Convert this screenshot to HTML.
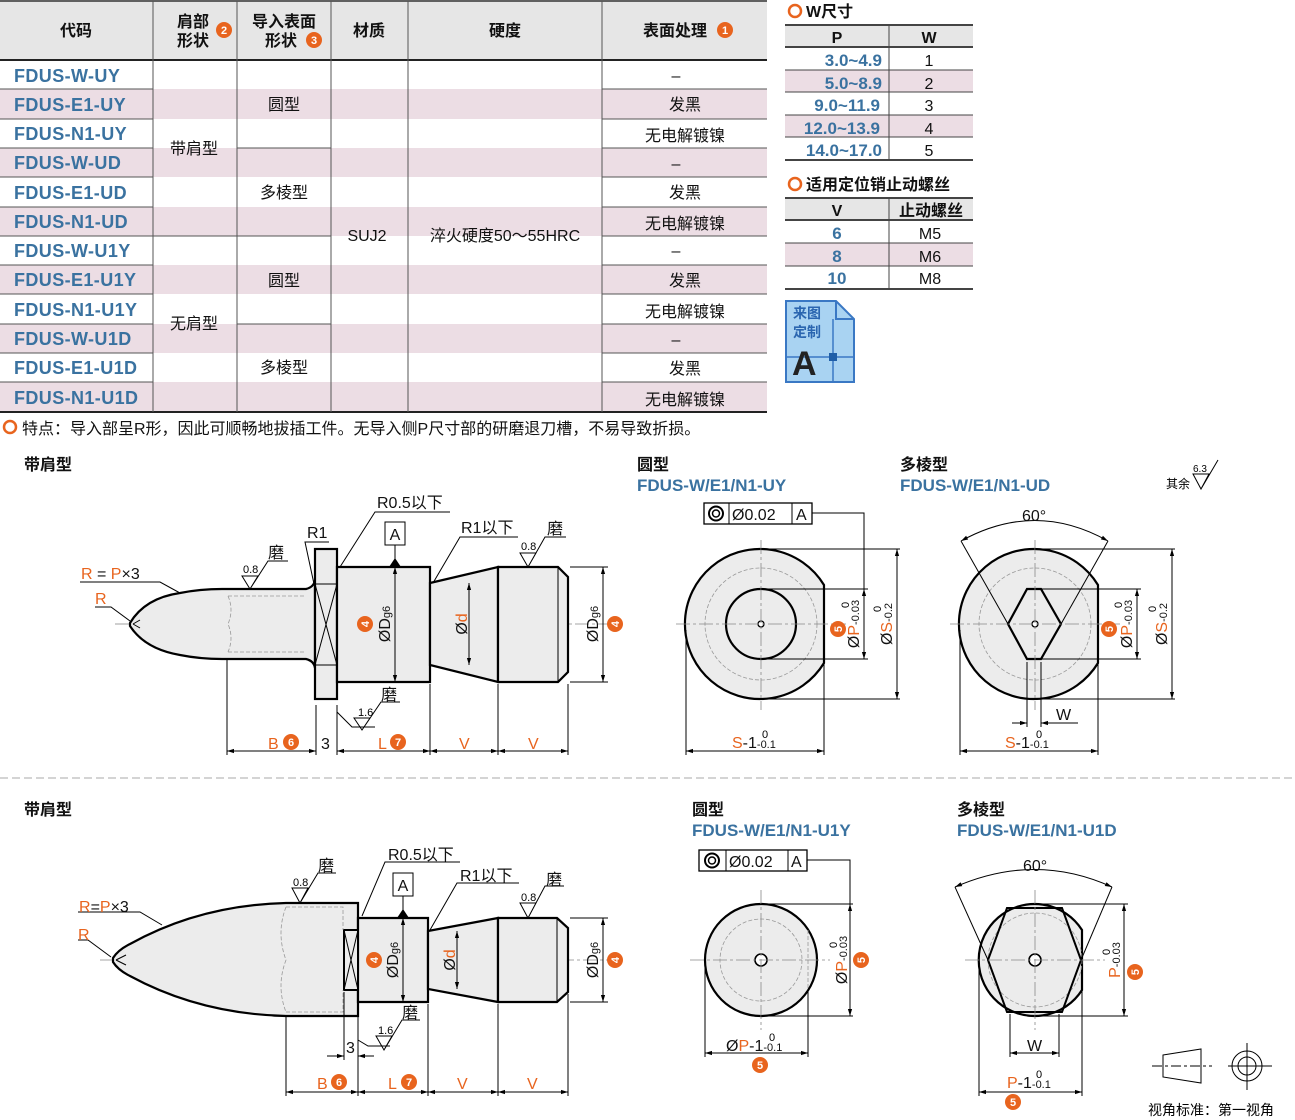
<!DOCTYPE html>
<html><head><meta charset="utf-8"><style>
html,body{margin:0;padding:0;background:#fff;}
svg{display:block;font-family:"Liberation Sans","Noto Sans CJK SC",sans-serif;}
.cd{fill:#3a72a0;font-weight:bold;font-size:17px;}
.cdt{font-size:18px;letter-spacing:0.4px;}
.t{font-size:16px;fill:#111;}
.h{font-size:16px;fill:#111;font-weight:bold;}
.o{fill:#e8641e;}
.s{stroke:#000;stroke-width:2.2;fill:#ececec;}
.ln{stroke:#000;stroke-width:1;fill:none;}
.ax{stroke:#888;stroke-width:0.8;stroke-dasharray:14 3 3 3;fill:none;}
.hd{stroke:#999;stroke-width:0.8;stroke-dasharray:4 2;fill:none;}
.dm{font-size:16px;fill:#111;}
</style></head><body>
<svg width="1295" height="1120" viewBox="0 0 1295 1120" xmlns="http://www.w3.org/2000/svg">
<defs>
<marker id="a" viewBox="0 0 10 10" refX="10" refY="5" markerWidth="9" markerHeight="7" orient="auto-start-reverse"><path d="M0,2 L10,5 L0,8z" fill="#000"/></marker>
</defs>

<!-- ===== main table ===== -->
<rect x="0" y="0" width="767" height="60" fill="#e6e6e6"/>
<g fill="#ecdde4">
<rect x="0" y="89" width="767" height="30"/><rect x="0" y="148" width="767" height="29"/>
<rect x="0" y="207" width="767" height="29"/><rect x="0" y="265" width="767" height="29"/>
<rect x="0" y="324" width="767" height="29"/><rect x="0" y="382" width="767" height="30"/>
</g>
<line x1="0" y1="1" x2="767" y2="1" stroke="#333" stroke-width="1.5"/>
<line x1="0" y1="60" x2="767" y2="60" stroke="#222" stroke-width="2"/>
<line x1="0" y1="412" x2="767" y2="412" stroke="#222" stroke-width="2"/>
<g stroke="#555" stroke-width="1">
<line x1="153" y1="1" x2="153" y2="412"/><line x1="237" y1="1" x2="237" y2="412"/>
<line x1="331" y1="1" x2="331" y2="412"/><line x1="408" y1="1" x2="408" y2="412"/>
<line x1="602" y1="1" x2="602" y2="412"/>
<g id="rl">
<line x1="0" y1="89" x2="153" y2="89"/><line x1="0" y1="119" x2="153" y2="119"/><line x1="0" y1="148" x2="153" y2="148"/>
<line x1="0" y1="177" x2="153" y2="177"/><line x1="0" y1="207" x2="153" y2="207"/><line x1="0" y1="236" x2="153" y2="236"/>
<line x1="0" y1="265" x2="153" y2="265"/><line x1="0" y1="294" x2="153" y2="294"/><line x1="0" y1="324" x2="153" y2="324"/>
<line x1="0" y1="353" x2="153" y2="353"/><line x1="0" y1="382" x2="153" y2="382"/>
</g>
<use href="#rl" transform="translate(602,0) scale(1.0784,1)"/>
<line x1="153" y1="236" x2="237" y2="236"/>
<line x1="237" y1="148" x2="331" y2="148"/><line x1="237" y1="236" x2="331" y2="236"/><line x1="237" y1="324" x2="331" y2="324"/>
</g>
<g class="h" text-anchor="middle">
<text x="76" y="36">代码</text>
<text x="193" y="27">肩部</text><text x="193" y="46">形状</text>
<text x="284" y="27">导入表面</text><text x="281" y="46">形状</text>
<text x="369" y="36">材质</text><text x="505" y="36">硬度</text><text x="675" y="36">表面处理</text>
</g>
<g font-size="11" font-weight="bold" fill="#fff" text-anchor="middle">
<circle cx="224" cy="30" r="8" class="o"/><text x="224" y="34">2</text>
<circle cx="314" cy="40" r="8" class="o"/><text x="314" y="44">3</text>
<circle cx="725" cy="30" r="8" class="o"/><text x="725" y="34">1</text>
</g>
<g class="cd cdt">
<text x="14" y="82">FDUS-W-UY</text><text x="14" y="111">FDUS-E1-UY</text><text x="14" y="140">FDUS-N1-UY</text>
<text x="14" y="169">FDUS-W-UD</text><text x="14" y="199">FDUS-E1-UD</text><text x="14" y="228">FDUS-N1-UD</text>
<text x="14" y="257">FDUS-W-U1Y</text><text x="14" y="286">FDUS-E1-U1Y</text><text x="14" y="316">FDUS-N1-U1Y</text>
<text x="14" y="345">FDUS-W-U1D</text><text x="14" y="374">FDUS-E1-U1D</text><text x="14" y="404">FDUS-N1-U1D</text>
</g>
<g class="t" text-anchor="middle">
<text x="194" y="154">带肩型</text><text x="194" y="329">无肩型</text>
<text x="284" y="110">圆型</text><text x="284" y="198">多棱型</text><text x="284" y="286">圆型</text><text x="284" y="373">多棱型</text>
<text x="367" y="241">SUJ2</text><text x="505" y="241">淬火硬度50～55HRC</text>
<text x="676" y="81">–</text><text x="685" y="110">发黑</text><text x="685" y="141">无电解镀镍</text>
<text x="676" y="169">–</text><text x="685" y="198">发黑</text><text x="685" y="229">无电解镀镍</text>
<text x="676" y="256">–</text><text x="685" y="286">发黑</text><text x="685" y="317">无电解镀镍</text>
<text x="676" y="345">–</text><text x="685" y="374">发黑</text><text x="685" y="405">无电解镀镍</text>
</g>
<circle cx="10" cy="427" r="6" fill="none" stroke="#e8641e" stroke-width="2.5"/>
<text x="22" y="434" class="t">特点：导入部呈R形，因此可顺畅地拔插工件。无导入侧P尺寸部的研磨退刀槽，不易导致折损。</text>

<!-- ===== W table ===== -->
<circle cx="795" cy="11" r="6" fill="none" stroke="#e8641e" stroke-width="2.5"/>
<text x="806" y="17" class="h">W尺寸</text>
<rect x="785" y="25" width="188" height="22" fill="#e6e6e6"/>
<rect x="785" y="70" width="188" height="22" fill="#ecdde4"/>
<rect x="785" y="115" width="188" height="22" fill="#ecdde4"/>
<g stroke="#444" stroke-width="1">
<line x1="785" y1="25" x2="973" y2="25" stroke-width="2"/><line x1="785" y1="47" x2="973" y2="47" stroke-width="2"/>
<line x1="785" y1="70" x2="973" y2="70"/><line x1="785" y1="92" x2="973" y2="92"/><line x1="785" y1="115" x2="973" y2="115"/><line x1="785" y1="137" x2="973" y2="137"/>
<line x1="785" y1="160" x2="973" y2="160" stroke-width="2"/><line x1="889" y1="25" x2="889" y2="160"/>
</g>
<g class="h" text-anchor="middle"><text x="837" y="43">P</text><text x="929" y="43">W</text></g>
<g class="cd" text-anchor="end"><text x="882" y="66">3.0~4.9</text><text x="882" y="89">5.0~8.9</text><text x="880" y="111">9.0~11.9</text><text x="880" y="134">12.0~13.9</text><text x="882" y="156">14.0~17.0</text></g>
<g class="t" text-anchor="middle"><text x="929" y="66">1</text><text x="929" y="89">2</text><text x="929" y="111">3</text><text x="929" y="134">4</text><text x="929" y="156">5</text></g>

<circle cx="795" cy="184" r="6" fill="none" stroke="#e8641e" stroke-width="2.5"/>
<text x="806" y="190" class="h">适用定位销止动螺丝</text>
<rect x="785" y="198" width="188" height="22" fill="#e6e6e6"/>
<rect x="785" y="243" width="188" height="23" fill="#ecdde4"/>
<g stroke="#444" stroke-width="1">
<line x1="785" y1="198" x2="973" y2="198" stroke-width="2"/><line x1="785" y1="220" x2="973" y2="220" stroke-width="2"/>
<line x1="785" y1="243" x2="973" y2="243"/><line x1="785" y1="266" x2="973" y2="266"/>
<line x1="785" y1="289" x2="973" y2="289" stroke-width="2"/><line x1="889" y1="198" x2="889" y2="289"/>
</g>
<g class="h" text-anchor="middle"><text x="837" y="216">V</text><text x="931" y="216">止动螺丝</text></g>
<g class="cd" text-anchor="middle"><text x="837" y="239">6</text><text x="837" y="262">8</text><text x="837" y="284">10</text></g>
<g class="t" text-anchor="middle"><text x="930" y="239">M5</text><text x="930" y="262">M6</text><text x="930" y="284">M8</text></g>

<!-- icon -->
<path d="M786,301 H836 L854,319 V382 H786z" fill="#a9d3f2" stroke="#3a78c4" stroke-width="2"/>
<path d="M836,301 V319 H854" fill="none" stroke="#3a78c4" stroke-width="2"/>
<line x1="786" y1="357" x2="854" y2="357" stroke="#3a78c4" stroke-width="1.5"/>
<line x1="833" y1="319" x2="833" y2="382" stroke="#3a78c4" stroke-width="1.5"/>
<rect x="829" y="353" width="8" height="8" fill="#1f5ea8"/>
<text x="793" y="318" font-size="14" font-weight="bold" fill="#2b66b0">来图</text>
<text x="793" y="337" font-size="14" font-weight="bold" fill="#2b66b0">定制</text>
<text x="792" y="375" font-size="34" font-weight="bold" fill="#222">A</text>

<line x1="0" y1="778" x2="1295" y2="778" stroke="#aaa" stroke-width="1" stroke-dasharray="8 4"/>

<!-- ===== top shoulder drawing ===== -->
<text x="24" y="470" class="h">带肩型</text>
<line x1="115" y1="624" x2="615" y2="624" class="ax"/>
<path class="s" d="M130,623 Q145,598 180,593 Q200,589 222,589 L306,589 Q314,587 315,580 L315,668 Q314,661 306,659 L222,659 Q200,659 180,655 Q145,649 130,626z"/>
<rect class="s" x="315" y="549" width="22" height="150"/>
<line x1="315" y1="584" x2="337" y2="584" class="ln"/><line x1="315" y1="665" x2="337" y2="665" class="ln"/>
<path d="M315,584 L337,665 M337,584 L315,665" class="ln" stroke-width="0.7"/>
<path class="s" d="M337,567 Q340,567 341,567 L430,567 L430,682 L341,682 Q338,682 337,682z"/>
<path class="s" d="M430,583 L498,567 L498,682 L430,665z"/>
<path class="s" d="M498,567 L558,567 L568,577 L568,672 L558,682 L498,682z"/>
<line x1="558" y1="567" x2="558" y2="682" class="ln" stroke-width="1.6"/>
<path d="M228,596 L306,596 M228,652 L306,652 M228,596 Q234,610 228,624 Q234,638 228,652" class="hd"/>
<path d="M133,624 L140,620 M133,624 L140,628" class="ln" stroke-width="0.6"/>
<g class="ln" stroke-width="0.8">
<line x1="227" y1="660" x2="227" y2="755"/><line x1="316" y1="705" x2="316" y2="755"/><line x1="337" y1="705" x2="337" y2="755"/>
<line x1="430" y1="684" x2="430" y2="755"/><line x1="498" y1="684" x2="498" y2="755"/><line x1="568" y1="684" x2="568" y2="755"/>
<line x1="227" y1="751" x2="316" y2="751" marker-start="url(#a)" marker-end="url(#a)"/>
<line x1="337" y1="751" x2="430" y2="751" marker-start="url(#a)" marker-end="url(#a)"/>
<line x1="430" y1="751" x2="498" y2="751" marker-start="url(#a)" marker-end="url(#a)"/>
<line x1="498" y1="751" x2="568" y2="751" marker-start="url(#a)" marker-end="url(#a)"/>
<line x1="395" y1="567" x2="395" y2="682" marker-start="url(#a)" marker-end="url(#a)"/>
<line x1="469" y1="583" x2="469" y2="665" marker-start="url(#a)" marker-end="url(#a)"/>
<line x1="570" y1="567" x2="608" y2="567"/><line x1="570" y1="682" x2="608" y2="682"/>
<line x1="603" y1="567" x2="603" y2="682" marker-start="url(#a)" marker-end="url(#a)"/>
</g>
<g class="dm"><text x="268" y="749" class="o">B</text><text x="321" y="749">3</text><text x="378" y="749" class="o">L</text><text x="459" y="749" class="o">V</text><text x="528" y="749" class="o">V</text></g>
<g font-size="11" font-weight="bold" fill="#fff" text-anchor="middle">
<circle cx="291" cy="742" r="8" class="o"/><text x="291" y="746">6</text>
<circle cx="398" cy="742" r="8" class="o"/><text x="398" y="746">7</text>
</g>
<text transform="translate(390,624) rotate(-90)" text-anchor="middle" class="dm">ØD<tspan font-size="11">g6</tspan></text>
<text transform="translate(467,624) rotate(-90)" text-anchor="middle" class="dm">Ø<tspan class="o">d</tspan></text>
<text transform="translate(598,624) rotate(-90)" text-anchor="middle" class="dm">ØD<tspan font-size="11">g6</tspan></text>
<g font-size="11" font-weight="bold" fill="#fff" text-anchor="middle">
<circle cx="365" cy="624" r="8" class="o"/><text transform="translate(369,624) rotate(-90)">4</text>
<circle cx="615" cy="624" r="8" class="o"/><text transform="translate(619,624) rotate(-90)">4</text>
</g>
<rect x="385" y="522" width="20" height="23" fill="#fff" stroke="#000"/><text x="395" y="540" text-anchor="middle" class="dm">A</text>
<line x1="395" y1="545" x2="395" y2="560" class="ln"/><path d="M389,567 L401,567 L395,558z"/>
<g class="ln" stroke-width="0.9">
<path d="M340,567 L375,512 L450,512"/><path d="M314,584 L305,542 L329,542"/>
<path d="M433,583 L460,537 L518,537"/><path d="M80,582 L160,582 L180,593"/><path d="M95,607 L111,607 L130,621"/>
<path d="M242,576 L258,576 L250,589z M250,589 L268,561 L288,561"/>
<path d="M520,553 L536,553 L528,567z M528,567 L545,537 L566,537"/>
<path d="M337,712 L352,727 L375,727 M354,718 L370,718 L362,730z M362,730 L381,702 L400,702"/>
</g>
<g class="dm"><text x="377" y="508">R0.5以下</text><text x="307" y="538">R1</text><text x="461" y="533">R1以下</text>
<text x="81" y="579"><tspan class="o">R</tspan> = <tspan class="o">P</tspan>×3</text><text x="95" y="604" class="o">R</text>
<text x="268" y="558">磨</text><text x="547" y="534">磨</text><text x="381" y="700">磨</text></g>
<g font-size="11"><text x="243" y="573">0.8</text><text x="521" y="550">0.8</text><text x="358" y="716">1.6</text></g>

<!-- ===== top round view ===== -->
<text x="637" y="470" class="h">圆型</text><text x="637" y="491" class="cd">FDUS-W/E1/N1-UY</text>
<path class="s" d="M824,585 A75,75 0 1 0 824,663z"/>
<circle cx="761" cy="624" r="56" class="hd" stroke="#333"/>
<circle cx="761" cy="624" r="35" class="s"/><circle cx="761" cy="624" r="3" fill="#fff" stroke="#000" stroke-width="1.3"/>
<line x1="676" y1="624" x2="846" y2="624" class="ax"/><line x1="761" y1="540" x2="761" y2="710" class="ax"/>
<rect x="704" y="503" width="108" height="21" fill="#fff" stroke="#000" stroke-width="1.3"/>
<line x1="729" y1="503" x2="729" y2="524" class="ln"/><line x1="792" y1="503" x2="792" y2="524" class="ln"/>
<circle cx="716" cy="513.5" r="7" fill="none" stroke="#000" stroke-width="2"/><circle cx="716" cy="513.5" r="3.5" fill="none" stroke="#000" stroke-width="1.5"/>
<text x="732" y="520" class="dm">Ø0.02</text><text x="796" y="520" class="dm">A</text>
<g class="ln" stroke-width="0.8">
<path d="M812,513 L864,513 L864,589"/>
<line x1="761" y1="589" x2="868" y2="589"/><line x1="761" y1="659" x2="868" y2="659"/>
<line x1="864" y1="589" x2="864" y2="659" marker-start="url(#a)" marker-end="url(#a)"/>
<line x1="761" y1="549" x2="900" y2="549"/><line x1="761" y1="699" x2="900" y2="699"/>
<line x1="897" y1="549" x2="897" y2="699" marker-start="url(#a)" marker-end="url(#a)"/>
<line x1="686" y1="630" x2="686" y2="755"/><line x1="824" y1="663" x2="824" y2="755"/>
<line x1="686" y1="751" x2="824" y2="751" marker-start="url(#a)" marker-end="url(#a)"/>
</g>
<text transform="translate(859,624) rotate(-90)" text-anchor="middle" class="dm">Ø<tspan class="o">P</tspan><tspan font-size="11">-0.03</tspan></text>
<text transform="translate(849,608) rotate(-90)" font-size="11">0</text>
<text transform="translate(892,624) rotate(-90)" text-anchor="middle" class="dm">Ø<tspan class="o">S</tspan><tspan font-size="11">-0.2</tspan></text>
<text transform="translate(881,612) rotate(-90)" font-size="11">0</text>
<circle cx="838" cy="629" r="8" class="o"/><text transform="translate(842,629) rotate(-90)" font-size="11" font-weight="bold" fill="#fff" text-anchor="middle">5</text>
<text x="732" y="748" class="dm"><tspan class="o">S</tspan>-1<tspan font-size="11">-0.1</tspan></text><text x="762" y="738" font-size="11">0</text>

<!-- ===== top polygon view ===== -->
<text x="900" y="470" class="h">多棱型</text><text x="900" y="491" class="cd">FDUS-W/E1/N1-UD</text>
<path class="s" d="M1098,585 A75,75 0 1 0 1098,663z"/>
<circle cx="1035" cy="624" r="56" class="hd" stroke="#333"/>
<path class="s" d="M1027,589 L1041,589 L1061,624 L1041,659 L1027,659 L1008,624z"/>
<circle cx="1035" cy="624" r="3" fill="#fff" stroke="#000" stroke-width="1.3"/>
<line x1="950" y1="624" x2="1120" y2="624" class="ax"/><line x1="1035" y1="540" x2="1035" y2="710" class="ax"/>
<g class="ln" stroke-width="0.8">
<path d="M961,541 Q1035,500 1108,541" marker-start="url(#a)" marker-end="url(#a)"/>
<line x1="961" y1="541" x2="1008" y2="624"/><line x1="1108" y1="541" x2="1061" y2="624"/>
<line x1="1041" y1="589" x2="1141" y2="589"/><line x1="1041" y1="659" x2="1141" y2="659"/>
<line x1="1137" y1="589" x2="1137" y2="659" marker-start="url(#a)" marker-end="url(#a)"/>
<line x1="1035" y1="549" x2="1175" y2="549"/><line x1="1035" y1="699" x2="1175" y2="699"/>
<line x1="1172" y1="549" x2="1172" y2="699" marker-start="url(#a)" marker-end="url(#a)"/>
<line x1="1027" y1="662" x2="1027" y2="727"/><line x1="1041" y1="662" x2="1041" y2="727"/>
<line x1="1012" y1="723" x2="1027" y2="723" marker-end="url(#a)"/><line x1="1078" y1="723" x2="1041" y2="723" marker-end="url(#a)"/>
<line x1="960" y1="630" x2="960" y2="755"/><line x1="1098" y1="663" x2="1098" y2="755"/>
<line x1="960" y1="751" x2="1098" y2="751" marker-start="url(#a)" marker-end="url(#a)"/>
</g>
<text x="1022" y="521" class="dm">60°</text>
<text x="1056" y="720" class="dm o">W</text>
<text transform="translate(1132,624) rotate(-90)" text-anchor="middle" class="dm">Ø<tspan class="o">P</tspan><tspan font-size="11">-0.03</tspan></text>
<text transform="translate(1122,608) rotate(-90)" font-size="11">0</text>
<text transform="translate(1167,624) rotate(-90)" text-anchor="middle" class="dm">Ø<tspan class="o">S</tspan><tspan font-size="11">-0.2</tspan></text>
<text transform="translate(1156,612) rotate(-90)" font-size="11">0</text>
<circle cx="1109" cy="629" r="8" class="o"/><text transform="translate(1113,629) rotate(-90)" font-size="11" font-weight="bold" fill="#fff" text-anchor="middle">5</text>
<text x="1005" y="748" class="dm"><tspan class="o">S</tspan>-1<tspan font-size="11">-0.1</tspan></text><text x="1036" y="738" font-size="11">0</text>
<text x="1166" y="488" font-size="12">其余</text>
<path d="M1193,474 L1209,474 L1201,489z M1201,489 L1218,460" class="ln"/><text x="1193" y="472" font-size="10">6.3</text>

<!-- ===== bottom drawing ===== -->
<text x="24" y="815" class="h">带肩型</text>
<line x1="100" y1="960" x2="615" y2="960" class="ax"/>
<path class="s" d="M113,958 Q118,950 130,944 Q200,905 286,903 L358,903 L358,1016 L286,1016 Q200,1014 130,976 Q118,970 113,962z"/>
<path class="s" d="M358,918 Q361,918 362,918 L428,918 L428,1002 L362,1002 Q359,1002 358,1002z"/>
<rect x="344" y="930" width="14" height="60" fill="#ececec" stroke="#000" stroke-width="2"/>
<path d="M344,930 L358,990 M358,930 L344,990" class="ln" stroke-width="0.7"/>
<path class="s" d="M428,931 L498,918 L498,1002 L428,989z"/>
<path class="s" d="M498,918 L557,918 L568,928 L568,992 L557,1002 L498,1002z"/>
<line x1="557" y1="918" x2="557" y2="1002" class="ln" stroke-width="1.6"/>
<path d="M286,907 L343,907 L343,930 M286,1012 L343,1012 L343,990 M286,907 Q276,933 286,960 Q276,986 286,1012" class="hd"/>
<path d="M116,960 L126,955 M116,960 L126,965" class="ln" stroke-width="0.6"/>
<g class="ln" stroke-width="0.8">
<line x1="286" y1="1016" x2="286" y2="1096"/><line x1="344" y1="992" x2="344" y2="1060"/><line x1="358" y1="1016" x2="358" y2="1096"/>
<line x1="428" y1="1004" x2="428" y2="1096"/><line x1="498" y1="1004" x2="498" y2="1096"/><line x1="568" y1="994" x2="568" y2="1096"/>
<line x1="286" y1="1092" x2="358" y2="1092" marker-start="url(#a)" marker-end="url(#a)"/>
<line x1="358" y1="1092" x2="428" y2="1092" marker-start="url(#a)" marker-end="url(#a)"/>
<line x1="428" y1="1092" x2="498" y2="1092" marker-start="url(#a)" marker-end="url(#a)"/>
<line x1="498" y1="1092" x2="568" y2="1092" marker-start="url(#a)" marker-end="url(#a)"/>
<line x1="327" y1="1056" x2="344" y2="1056" marker-end="url(#a)"/><line x1="374" y1="1056" x2="358" y2="1056" marker-end="url(#a)"/>
<line x1="403" y1="918" x2="403" y2="1002" marker-start="url(#a)" marker-end="url(#a)"/>
<line x1="457" y1="931" x2="457" y2="989" marker-start="url(#a)" marker-end="url(#a)"/>
<line x1="570" y1="918" x2="608" y2="918"/><line x1="570" y1="1002" x2="608" y2="1002"/>
<line x1="603" y1="918" x2="603" y2="1002" marker-start="url(#a)" marker-end="url(#a)"/>
</g>
<g class="dm"><text x="317" y="1089" class="o">B</text><text x="346" y="1053">3</text><text x="388" y="1089" class="o">L</text><text x="457" y="1089" class="o">V</text><text x="527" y="1089" class="o">V</text></g>
<g font-size="11" font-weight="bold" fill="#fff" text-anchor="middle">
<circle cx="339" cy="1082" r="8" class="o"/><text x="339" y="1086">6</text>
<circle cx="409" cy="1082" r="8" class="o"/><text x="409" y="1086">7</text>
</g>
<text transform="translate(398,960) rotate(-90)" text-anchor="middle" class="dm">ØD<tspan font-size="11">g6</tspan></text>
<text transform="translate(455,960) rotate(-90)" text-anchor="middle" class="dm">Ø<tspan class="o">d</tspan></text>
<text transform="translate(598,960) rotate(-90)" text-anchor="middle" class="dm">ØD<tspan font-size="11">g6</tspan></text>
<g font-size="11" font-weight="bold" fill="#fff" text-anchor="middle">
<circle cx="374" cy="960" r="8" class="o"/><text transform="translate(378,960) rotate(-90)">4</text>
<circle cx="615" cy="960" r="8" class="o"/><text transform="translate(619,960) rotate(-90)">4</text>
</g>
<rect x="393" y="873" width="20" height="23" fill="#fff" stroke="#000"/><text x="403" y="891" text-anchor="middle" class="dm">A</text>
<line x1="403" y1="896" x2="403" y2="911" class="ln"/><path d="M397,918 L409,918 L403,909z"/>
<g class="ln" stroke-width="0.9">
<path d="M362,916 L385,862 L460,862"/><path d="M430,930 L457,883 L519,883"/>
<path d="M78,912 L140,912 L162,925"/><path d="M78,940 L88,940 L111,957"/>
<path d="M292,888 L308,888 L300,903z M300,903 L318,873 L336,873"/>
<path d="M520,903 L536,903 L528,918z M528,918 L545,886 L564,886"/>
<path d="M358,1040 L368,1046 L390,1046 M376,1036 L392,1036 L384,1050z M384,1050 L402,1020 L420,1020"/>
</g>
<g class="dm"><text x="388" y="860">R0.5以下</text><text x="460" y="881">R1以下</text>
<text x="79" y="912"><tspan class="o">R</tspan>=<tspan class="o">P</tspan>×3</text><text x="78" y="940" class="o">R</text>
<text x="318" y="871">磨</text><text x="546" y="885">磨</text><text x="402" y="1018">磨</text></g>
<g font-size="11"><text x="293" y="886">0.8</text><text x="521" y="901">0.8</text><text x="378" y="1034">1.6</text></g>

<!-- ===== bottom round view ===== -->
<text x="692" y="815" class="h">圆型</text><text x="692" y="836" class="cd">FDUS-W/E1/N1-U1Y</text>
<ellipse cx="761" cy="960" rx="56" ry="56" class="s"/>
<circle cx="761" cy="960" r="41" class="hd" stroke="#333"/>
<line x1="808" y1="930" x2="808" y2="990" class="hd" stroke="#333"/>
<circle cx="761" cy="960" r="6" fill="#fff" stroke="#000" stroke-width="1.6"/>
<line x1="690" y1="960" x2="830" y2="960" class="ax"/><line x1="761" y1="890" x2="761" y2="1030" class="ax"/>
<rect x="699" y="850" width="108" height="21" fill="#fff" stroke="#000" stroke-width="1.3"/>
<line x1="726" y1="850" x2="726" y2="871" class="ln"/><line x1="788" y1="850" x2="788" y2="871" class="ln"/>
<circle cx="712" cy="860.5" r="7" fill="none" stroke="#000" stroke-width="2"/><circle cx="712" cy="860.5" r="3.5" fill="none" stroke="#000" stroke-width="1.5"/>
<text x="729" y="867" class="dm">Ø0.02</text><text x="791" y="867" class="dm">A</text>
<g class="ln" stroke-width="0.8">
<path d="M807,860 L850,860 L850,904"/>
<line x1="761" y1="904" x2="853" y2="904"/><line x1="761" y1="1016" x2="853" y2="1016"/>
<line x1="850" y1="904" x2="850" y2="1016" marker-start="url(#a)" marker-end="url(#a)"/>
<line x1="705" y1="966" x2="705" y2="1057"/><line x1="808" y1="992" x2="808" y2="1057"/>
<line x1="705" y1="1053" x2="808" y2="1053" marker-start="url(#a)" marker-end="url(#a)"/>
</g>
<text transform="translate(847,960) rotate(-90)" text-anchor="middle" class="dm">Ø<tspan class="o">P</tspan><tspan font-size="11">-0.03</tspan></text>
<text transform="translate(837,948) rotate(-90)" font-size="11">0</text>
<circle cx="861" cy="960" r="8" class="o"/><text transform="translate(865,960) rotate(-90)" font-size="11" font-weight="bold" fill="#fff" text-anchor="middle">5</text>
<text x="726" y="1051" class="dm">Ø<tspan class="o">P</tspan>-1<tspan font-size="11">-0.1</tspan></text><text x="769" y="1041" font-size="11">0</text>
<circle cx="760" cy="1065" r="8" class="o"/><text x="760" y="1069" font-size="11" font-weight="bold" fill="#fff" text-anchor="middle">5</text>

<!-- ===== bottom polygon view ===== -->
<text x="957" y="815" class="h">多棱型</text><text x="957" y="836" class="cd">FDUS-W/E1/N1-U1D</text>
<path class="s" d="M1082,930 A56,56 0 1 0 1082,990z"/>
<circle cx="1035" cy="960" r="47" class="hd" stroke="#333"/>
<path d="M1007,908 L1062,908 L1081,960 L1062,1012 L1007,1012 L988,960z" fill="none" stroke="#000" stroke-width="2"/>
<circle cx="1035" cy="960" r="6" fill="#fff" stroke="#000" stroke-width="1.6"/>
<line x1="965" y1="960" x2="1105" y2="960" class="ax"/><line x1="1035" y1="890" x2="1035" y2="1030" class="ax"/>
<g class="ln" stroke-width="0.8">
<path d="M955,887 Q1035,852 1112,887" marker-start="url(#a)" marker-end="url(#a)"/>
<line x1="955" y1="887" x2="988" y2="960"/><line x1="1112" y1="887" x2="1081" y2="960"/>
<line x1="1035" y1="904" x2="1128" y2="904"/><line x1="1035" y1="1016" x2="1128" y2="1016"/>
<line x1="1124" y1="904" x2="1124" y2="1016" marker-start="url(#a)" marker-end="url(#a)"/>
<line x1="1010" y1="1014" x2="1010" y2="1057"/><line x1="1059" y1="1014" x2="1059" y2="1057"/>
<line x1="1010" y1="1053" x2="1059" y2="1053" marker-start="url(#a)" marker-end="url(#a)"/>
<line x1="979" y1="966" x2="979" y2="1096"/><line x1="1082" y1="990" x2="1082" y2="1096"/>
<line x1="979" y1="1092" x2="1082" y2="1092" marker-start="url(#a)" marker-end="url(#a)"/>
</g>
<text x="1023" y="871" class="dm">60°</text>
<text x="1027" y="1051" class="dm o">W</text>
<text transform="translate(1120,960) rotate(-90)" text-anchor="middle" class="dm"><tspan class="o">P</tspan><tspan font-size="11">-0.03</tspan></text>
<text transform="translate(1110,955) rotate(-90)" font-size="11">0</text>
<circle cx="1135" cy="972" r="8" class="o"/><text transform="translate(1139,972) rotate(-90)" font-size="11" font-weight="bold" fill="#fff" text-anchor="middle">5</text>
<text x="1007" y="1088" class="dm"><tspan class="o">P</tspan>-1<tspan font-size="11">-0.1</tspan></text><text x="1036" y="1078" font-size="11">0</text>
<circle cx="1013" cy="1102" r="8" class="o"/><text x="1013" y="1106" font-size="11" font-weight="bold" fill="#fff" text-anchor="middle">5</text>

<!-- view symbol -->
<path d="M1163,1055 L1201,1049 L1201,1083 L1163,1077z" fill="none" stroke="#000" stroke-width="1"/>
<line x1="1152" y1="1066" x2="1212" y2="1066" class="ln" stroke-dasharray="10 3 3 3" stroke-width="0.8"/>
<circle cx="1247" cy="1066" r="15" fill="none" stroke="#000"/><circle cx="1247" cy="1066" r="9" fill="none" stroke="#000"/>
<line x1="1228" y1="1066" x2="1272" y2="1066" class="ln" stroke-width="0.8"/><line x1="1247" y1="1043" x2="1247" y2="1090" class="ln" stroke-width="0.8"/>
<text x="1148" y="1115" font-size="14">视角标准：第一视角</text>
</svg>
</body></html>
